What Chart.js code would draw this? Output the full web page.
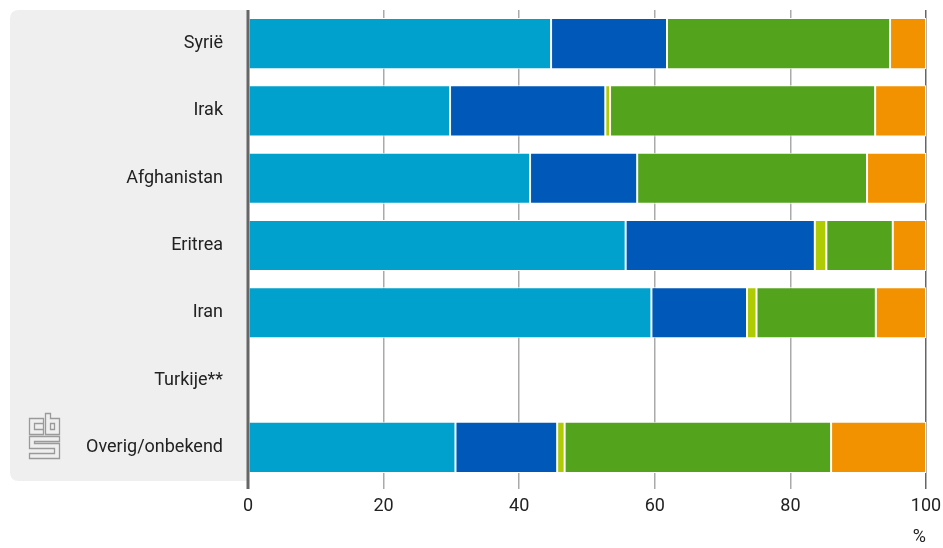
<!DOCTYPE html>
<html>
<head>
<meta charset="utf-8">
<script src="https://cdn.jsdelivr.net/npm/chart.js@4/dist/chart.umd.min.js"></script>
<style>
html,body{margin:0;padding:0;background:#fff;}
#wrap{width:943px;height:548px;position:relative;}
</style>
</head>
<body>
<div id="wrap"><canvas id="c" width="943" height="548"></canvas></div>
<script>
const categories = ['Syrië','Irak','Afghanistan','Eritrea','Iran','Turkije**','Overig/onbekend'];
const series1 = [44.7, 29.8, 41.6, 55.7, 59.5, null, 30.6];
const series2 = [17.1, 22.9, 15.8, 27.9, 14.1, null, 15.0];
const series3 = [0, 0.7, 0, 1.7, 1.4, null, 1.1];
const series4 = [32.9, 39.1, 33.9, 9.8, 17.6, null, 39.3];
const series5 = [5.3, 7.5, 8.7, 4.9, 7.4, null, 14.0];
const xTicks = [0, 20, 40, 60, 80, 100];

const colors = ['#00a1cd','#0058b8','#afcb05','#53a31d','#f39200'];
const allSeries = [series1, series2, series3, series4, series5];

const FONT = 'Roboto, "DejaVu Sans", sans-serif';

const bgPlugin = {
  id: 'bgbox',
  beforeDraw(chart) {
    const ctx = chart.ctx, a = chart.chartArea;
    const x0 = 10, y0 = a.top, x1 = a.left, y1 = a.bottom, r = 9;
    ctx.save();
    ctx.fillStyle = '#efefef';
    ctx.beginPath();
    ctx.moveTo(x0 + r, y0);
    ctx.lineTo(x1, y0);
    ctx.lineTo(x1, y1);
    ctx.lineTo(x0 + r, y1);
    ctx.quadraticCurveTo(x0, y1, x0, y1 - r);
    ctx.lineTo(x0, y0 + r);
    ctx.quadraticCurveTo(x0, y0, x0 + r, y0);
    ctx.closePath();
    ctx.fill();
    // cbs logo (approximate)
    ctx.strokeStyle = '#9a9a9a';
    ctx.lineWidth = 1.3;
    const L = 29, T = 413;
    ctx.beginPath();
    ctx.rect(L + 0.5, T + 5.5, 14, 16);
    ctx.moveTo(L + 14.5, T + 10.5); ctx.lineTo(L + 5.5, T + 10.5); ctx.lineTo(L + 5.5, T + 16.5); ctx.lineTo(L + 14.5, T + 16.5);
    ctx.moveTo(L + 16.5, T + 0.5); ctx.lineTo(L + 16.5, T + 21.5); ctx.lineTo(L + 30.5, T + 21.5); ctx.lineTo(L + 30.5, T + 5.5); ctx.lineTo(L + 21.5, T + 5.5); ctx.lineTo(L + 21.5, T + 0.5); ctx.closePath();
    ctx.rect(L + 21.5, T + 10.5, 4, 6);
    ctx.moveTo(L + 30.5, T + 23.5); ctx.lineTo(L + 0.5, T + 23.5); ctx.lineTo(L + 0.5, T + 35.5); ctx.lineTo(L + 25.5, T + 35.5); ctx.lineTo(L + 25.5, T + 40.5); ctx.lineTo(L + 0.5, T + 40.5); ctx.lineTo(L + 0.5, T + 45.5); ctx.lineTo(L + 30.5, T + 45.5); ctx.lineTo(L + 30.5, T + 30.5); ctx.lineTo(L + 5.5, T + 30.5); ctx.lineTo(L + 5.5, T + 28.5); ctx.lineTo(L + 30.5, T + 28.5); ctx.closePath();
    ctx.stroke();
    ctx.restore();
  },
  afterDraw(chart) {
    const ctx = chart.ctx, a = chart.chartArea;
    ctx.save();
    ctx.strokeStyle = '#666';
    ctx.lineWidth = 3;
    ctx.beginPath();
    ctx.moveTo(a.left, a.top);
    ctx.lineTo(a.left, a.bottom + 8);
    ctx.stroke();
    ctx.restore();
  }
};

new Chart(document.getElementById('c'), {
  type: 'bar',
  data: {
    labels: categories,
    datasets: allSeries.map((s, i) => ({
      data: s,
      backgroundColor: colors[i],
      borderColor: '#ffffff',
      borderWidth: 1,
      borderSkipped: false,
      categoryPercentage: 1,
      barPercentage: 0.76
    }))
  },
  plugins: [bgPlugin],
  options: {
    indexAxis: 'y',
    responsive: false,
    animation: false,
    layout: { padding: { top: 10, right: 17, left: 0, bottom: 0 } },
    plugins: { legend: { display: false }, tooltip: { enabled: false } },
    scales: {
      x: {
        stacked: true,
        min: 0, max: 100,
        afterBuildTicks(scale) { scale.ticks = xTicks.map(v => ({ value: v })); },
        afterFit(scale) { scale.height = 67; scale.paddingLeft = 0; scale.paddingRight = 0; },
        grid: {
          color: ctx => (ctx.tick && ctx.tick.value === 100) ? '#666' : '#aaaaaa',
          lineWidth: 1.5,
          tickLength: 8,
          drawOnChartArea: true
        },
        border: { display: false },
        ticks: { color: '#222', font: { family: FONT, size: 18 }, padding: 7, maxRotation: 0 },
        title: { display: true, text: '%', align: 'end', color: '#222', font: { family: FONT, size: 18 }, padding: { top: 0, bottom: 0 } }
      },
      y: {
        stacked: true,
        afterFit(scale) { scale.width = 248; scale.paddingTop = 0; scale.paddingBottom = 0; },
        grid: { display: false },
        border: { display: false },
        ticks: { color: '#222', font: { family: FONT, size: 18 }, padding: 17 }
      }
    }
  }
});
</script>
</body>
</html>
